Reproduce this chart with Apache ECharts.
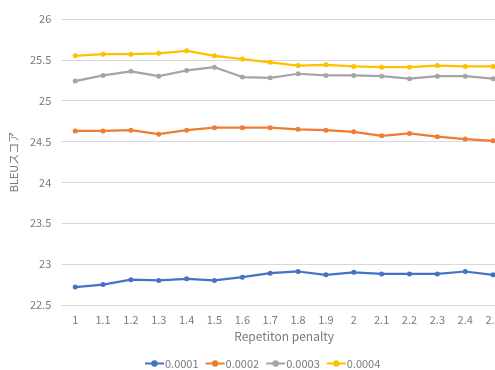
<!DOCTYPE html>
<html>
<head>
<meta charset="utf-8">
<script src="https://cdn.jsdelivr.net/npm/echarts@6/dist/echarts.min.js"></script>
<style>
  html, body { margin: 0; padding: 0; background: #fff; overflow: hidden; }
  #chart { width: 507px; height: 370px; }
</style>
</head>
<body>
<div id="chart"></div>
<script>
// Repetition penalty values on the category axis
const penalties = ['1', '1.1', '1.2', '1.3', '1.4', '1.5', '1.6', '1.7', '1.8', '1.9', '2', '2.1', '2.2', '2.3', '2.4', '2.5'];

// BLEU scores per learning rate
const lr0001 = [22.72, 22.75, 22.81, 22.80, 22.82, 22.80, 22.84, 22.89, 22.91, 22.87, 22.90, 22.88, 22.88, 22.88, 22.91, 22.87];
const lr0002 = [24.63, 24.63, 24.64, 24.59, 24.64, 24.67, 24.67, 24.67, 24.65, 24.64, 24.62, 24.57, 24.60, 24.56, 24.53, 24.51];
const lr0003 = [25.24, 25.31, 25.36, 25.30, 25.37, 25.41, 25.29, 25.28, 25.33, 25.31, 25.31, 25.30, 25.27, 25.30, 25.30, 25.27];
const lr0004 = [25.55, 25.57, 25.57, 25.58, 25.61, 25.55, 25.51, 25.47, 25.43, 25.44, 25.42, 25.41, 25.41, 25.43, 25.42, 25.42];

const seriesNames = ['0.0001', '0.0002', '0.0003', '0.0004'];
const seriesData = [lr0001, lr0002, lr0003, lr0004];
const colors = ['#4472C4', '#ED7D31', '#A5A5A5', '#FFC000'];

const font = '"Noto Sans CJK JP", "Noto Sans", sans-serif';
const textColor = '#7a7a7a';

const chart = echarts.init(document.getElementById('chart'));
chart.setOption({
  animation: false,
  color: colors,
  textStyle: { fontFamily: font },
  grid: { left: 59, right: 0, top: 19, bottom: 65, containLabel: false },
  legend: {
    data: seriesNames,
    left: 139,
    top: 353,
    itemWidth: 19,
    itemHeight: 8,
    itemGap: 6,
    textStyle: { color: textColor, fontSize: 11, fontFamily: font, padding: [0, 0, 0, -4] }
  },
  xAxis: {
    type: 'category',
    data: penalties,
    boundaryGap: true,
    name: 'Repetiton penalty',
    nameLocation: 'middle',
    nameGap: 25,
    nameTextStyle: { color: textColor, fontSize: 12, fontFamily: font },
    axisLine: { show: true, lineStyle: { color: '#d9d9d9', width: 1 } },
    axisTick: { show: false },
    axisLabel: { color: textColor, fontSize: 11, margin: 9, interval: 0, fontFamily: font }
  },
  yAxis: {
    type: 'value',
    min: 22.5,
    max: 26,
    interval: 0.5,
    name: 'BLEUスコア',
    nameLocation: 'middle',
    nameGap: 32,
    nameTextStyle: { color: textColor, fontSize: 11, fontFamily: font },
    axisLine: { show: false },
    axisTick: { show: false },
    axisLabel: { color: textColor, fontSize: 11, margin: 10, fontFamily: font },
    splitLine: { lineStyle: { color: '#d9d9d9', width: 1 } }
  },
  series: seriesNames.map((name, i) => ({
    name: name,
    type: 'line',
    data: seriesData[i],
    symbol: 'circle',
    symbolSize: 5,
    lineStyle: { width: 2.25, color: colors[i] },
    itemStyle: { color: colors[i] }
  }))
});
</script>
</body>
</html>
